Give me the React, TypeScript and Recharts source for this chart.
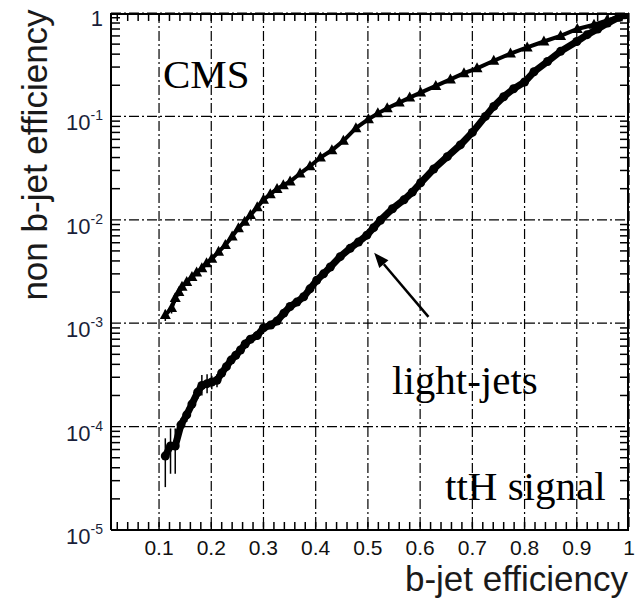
import React from 'react';
import { ScatterChart, Scatter, XAxis, YAxis, CartesianGrid, ErrorBar, ReferenceLine } from 'recharts';

// b-jet efficiency vs. mistag rate, ttH signal sample
const cEff = [0.112, 0.124, 0.131, 0.138, 0.144, 0.153, 0.163, 0.172, 0.182, 0.191, 0.201, 0.214, 0.227, 0.24, 0.252, 0.264, 0.275, 0.288, 0.3, 0.313, 0.326, 0.338, 0.351, 0.37, 0.389, 0.409, 0.431, 0.453, 0.477, 0.501, 0.519, 0.537, 0.56, 0.58, 0.601, 0.63, 0.658, 0.684, 0.709, 0.741, 0.773, 0.805, 0.837, 0.869, 0.901, 0.933, 0.958, 0.978, 0.992];
const cMistag = [1.2e-3, 1.4e-3, 1.75e-3, 2.0e-3, 2.25e-3, 2.5e-3, 2.8e-3, 3.1e-3, 3.4e-3, 3.8e-3, 4.2e-3, 4.9e-3, 5.7e-3, 6.9e-3, 8.3e-3, 9.6e-3, 0.0111, 0.0132, 0.0156, 0.0177, 0.0199, 0.0216, 0.0234, 0.028, 0.033, 0.04, 0.047, 0.058, 0.077, 0.094, 0.107, 0.12, 0.136, 0.152, 0.17, 0.197, 0.228, 0.262, 0.292, 0.345, 0.405, 0.465, 0.53, 0.6, 0.7, 0.77, 0.85, 0.91, 0.96];
const cErr = [1.5e-4, 1.6e-4, 1.8e-4, 1.8e-4, 1.8e-4];

const lightEff = [0.112, 0.122, 0.131, 0.142, 0.153, 0.163, 0.174, 0.182, 0.192, 0.201, 0.211, 0.22, 0.229, 0.238, 0.247, 0.256, 0.265, 0.275, 0.288, 0.3, 0.314, 0.326, 0.339, 0.351, 0.364, 0.377, 0.389, 0.402, 0.415, 0.428, 0.447, 0.466, 0.482, 0.498, 0.511, 0.524, 0.547, 0.569, 0.585, 0.601, 0.626, 0.652, 0.677, 0.7, 0.725, 0.741, 0.76, 0.779, 0.8, 0.818, 0.844, 0.869, 0.9, 0.92, 0.94, 0.959, 0.981, 0.992];
const lightMistag = [5.2e-5, 6.5e-5, 6.5e-5, 1.04e-4, 1.3e-4, 1.65e-4, 2.15e-4, 2.5e-4, 2.6e-4, 2.7e-4, 2.8e-4, 3.3e-4, 3.8e-4, 4.4e-4, 4.9e-4, 5.5e-4, 6.3e-4, 7.0e-4, 7.6e-4, 9.0e-4, 9.6e-4, 1.05e-3, 1.25e-3, 1.45e-3, 1.6e-3, 1.8e-3, 2.15e-3, 2.6e-3, 3.0e-3, 3.5e-3, 4.4e-3, 5.3e-3, 6.1e-3, 7.1e-3, 8.4e-3, 9.9e-3, 0.0128, 0.0156, 0.0185, 0.0228, 0.031, 0.0408, 0.053, 0.07, 0.1, 0.125, 0.155, 0.185, 0.215, 0.27, 0.34, 0.426, 0.53, 0.617, 0.7, 0.8, 0.91, 0.96];
// [down, up] uncertainties on the low-efficiency points
const lightErr = [[2.6e-5, 2.5e-5], [3.0e-5, 3.1e-5], [3.0e-5, 3.1e-5], [1.8e-5, 1.6e-5], [1.9e-5, 2.2e-5], [1.9e-5, 1.7e-5], [3e-5, 3e-5], [5e-5, 6.5e-5], [5e-5, 6e-5], [4e-5, 4e-5], [4e-5, 4e-5]];

const xTicks = [0.1, 0.2, 0.3, 0.4, 0.5, 0.6, 0.7, 0.8, 0.9, 1];
const yTicks = [1e-5, 1e-4, 1e-3, 1e-2, 1e-1, 1];
const X_DOMAIN: [number, number] = [0.008, 1];
const Y_DOMAIN: [number, number] = [1e-5, 1];

// arrow pointing at the light-jet curve: [tail, head]
const arrowPts = [{ x: 0.616, y: 1.15e-3 }, { x: 0.512, y: 4.8e-3 }];

// small tick marks along the frame
const xMinor: number[] = [];
for (let i = 1; i < 50; i++) xMinor.push(+(i * 0.02).toFixed(2));
const yMinor: number[] = [];
for (let e = -5; e < 0; e++) for (let m = 2; m <= 9; m++) yMinor.push(m * Math.pow(10, e));

const cData = cEff.map((x, i) => ({ x, y: cMistag[i], err: cErr[i] ?? 0 }));
const lightData = lightEff.map((x, i) => ({ x, y: lightMistag[i], err: lightErr[i] ?? [0, 0] }));

// frame ticks are placed through the chart scales as tiny scatter marks
const bottomTicks = xMinor.map((x) => ({ x, y: Y_DOMAIN[0] }));
const topTicks = xMinor.map((x) => ({ x, y: Y_DOMAIN[1] }));
const leftTicks = yMinor.map((y) => ({ x: X_DOMAIN[0], y }));
const rightTicks = yMinor.map((y) => ({ x: X_DOMAIN[1], y }));
const topEdge = [{ x: X_DOMAIN[0], y: Y_DOMAIN[1] }, { x: X_DOMAIN[1], y: Y_DOMAIN[1] }];
const rightEdge = [{ x: X_DOMAIN[1], y: Y_DOMAIN[0] }, { x: X_DOMAIN[1], y: Y_DOMAIN[1] }];

const SANS = '"Liberation Sans", Arial, Helvetica, sans-serif';
const SERIF = '"Liberation Serif", "Times New Roman", serif';

const Triangle = (p: any) => {
  const { cx, cy } = p;
  if (cx == null || cy == null) return null;
  return <path d={`M${cx},${cy - 6}L${cx + 5.5},${cy + 4}L${cx - 5.5},${cy + 4}Z`} fill="#000" />;
};

const Dot = (p: any) => {
  const { cx, cy } = p;
  if (cx == null || cy == null) return null;
  return <circle cx={cx} cy={cy} r={4.5} fill="#000" />;
};

const tickMark = (dx: number, dy: number) => (p: any) => {
  const { cx, cy } = p;
  if (cx == null || cy == null) return null;
  return <line x1={cx} y1={cy} x2={cx + dx} y2={cy + dy} stroke="#000" strokeWidth={1.5} />;
};
const UpTick = tickMark(0, -8);
const DownTick = tickMark(0, 8);
const RightTick = tickMark(9, 0);
const LeftTick = tickMark(-9, 0);
const NoMark = () => null;

const XTick = ({ x, y, payload }: any) => (
  <text x={x} y={y + 25} textAnchor="middle" fontSize={21} fontFamily={SANS} fill="#111">
    {String(payload.value)}
  </text>
);

const YTick = ({ x, y, payload }: any) => {
  const e = Math.round(Math.log10(payload.value));
  if (e === 0) {
    return (
      <text x={x - 8} y={y + 13} textAnchor="end" fontSize={22} fontFamily={SANS} fill="#1a1f3a">1</text>
    );
  }
  return (
    <text x={x - 8} y={y + 14} textAnchor="end" fontSize={22} fontFamily={SANS} fill="#1a1f3a">
      10<tspan dy={-10} fontSize={14}>{String(e)}</tspan>
    </text>
  );
};

const Arrow = (p: any) => {
  const { x1, y1, x2, y2 } = p;
  const ang = Math.atan2(y2 - y1, x2 - x1);
  const len = 15;
  const half = 6;
  const bx = x2 - len * Math.cos(ang);
  const by = y2 - len * Math.sin(ang);
  const nx = -Math.sin(ang) * half;
  const ny = Math.cos(ang) * half;
  return (
    <g>
      <line x1={x1} y1={y1} x2={bx} y2={by} stroke="#000" strokeWidth={2.5} />
      <path d={`M${x2},${y2}L${bx + nx},${by + ny}L${bx - nx},${by - ny}Z`} fill="#000" />
    </g>
  );
};

const axisLine = { stroke: '#000', strokeWidth: 2 };
const edgeLine = { stroke: '#000', strokeWidth: 4 };

export default function App() {
  return (
    <div style={{ position: 'absolute', left: 0, top: 0, width: 642, height: 602, background: '#fff' }}>
      <ScatterChart width={642} height={602} margin={{ top: 13, right: 13, bottom: 42, left: 51 }}>
        <CartesianGrid stroke="#000" strokeWidth={1.2} strokeDasharray="10 3 2 3" />
        <XAxis
          type="number" dataKey="x" domain={X_DOMAIN} ticks={xTicks} interval={0}
          allowDataOverflow height={30} tickSize={0} tickMargin={0} tickLine={false}
          axisLine={axisLine} tick={XTick}
        />
        <YAxis
          type="number" scale="log" dataKey="y" domain={Y_DOMAIN} ticks={yTicks} interval={0}
          allowDataOverflow width={60} tickSize={0} tickMargin={0} tickLine={false}
          axisLine={axisLine} tick={YTick}
        />
        <Scatter data={topEdge} shape={NoMark} line={edgeLine} isAnimationActive={false} />
        <Scatter data={rightEdge} shape={NoMark} line={edgeLine} isAnimationActive={false} />
        <Scatter data={bottomTicks} shape={UpTick} isAnimationActive={false} />
        <Scatter data={topTicks} shape={DownTick} isAnimationActive={false} />
        <Scatter data={leftTicks} shape={RightTick} isAnimationActive={false} />
        <Scatter data={rightTicks} shape={LeftTick} isAnimationActive={false} />
        <Scatter
          data={cData} shape={Triangle} isAnimationActive={false}
          line={{ stroke: '#000', strokeWidth: 4 }} lineType="joint"
        >
          <ErrorBar dataKey="err" direction="y" width={0} stroke="#000" strokeWidth={1.5} isAnimationActive={false} />
        </Scatter>
        <Scatter
          data={lightData} shape={Dot} isAnimationActive={false}
          line={{ stroke: '#000', strokeWidth: 7 }} lineType="joint"
        >
          <ErrorBar dataKey="err" direction="y" width={0} stroke="#000" strokeWidth={1.5} isAnimationActive={false} />
        </Scatter>
        <ReferenceLine segment={arrowPts} shape={Arrow} ifOverflow="visible" />
      </ScatterChart>
      <svg width={642} height={602} style={{ position: 'absolute', left: 0, top: 0, pointerEvents: 'none' }}>
        <text x={163} y={88} fontSize={41} fontFamily={SERIF} fill="#000">CMS</text>
        <text x={392} y={394} fontSize={41} fontFamily={SERIF} fill="#000">light-jets</text>
        <text x={445} y={500} fontSize={41} fontFamily={SERIF} fill="#000">ttH signal</text>
        <text x={628} y={591} textAnchor="end" fontSize={35} fontFamily={SANS} fill="#1a1a1a">
          b-jet efficiency
        </text>
        <text
          transform="translate(47,155) rotate(-90)" textAnchor="middle" fontSize={35} fontFamily={SANS}
          fill="#1a1a1a"
        >
          non b-jet efficiency
        </text>
      </svg>
    </div>
  );
}
